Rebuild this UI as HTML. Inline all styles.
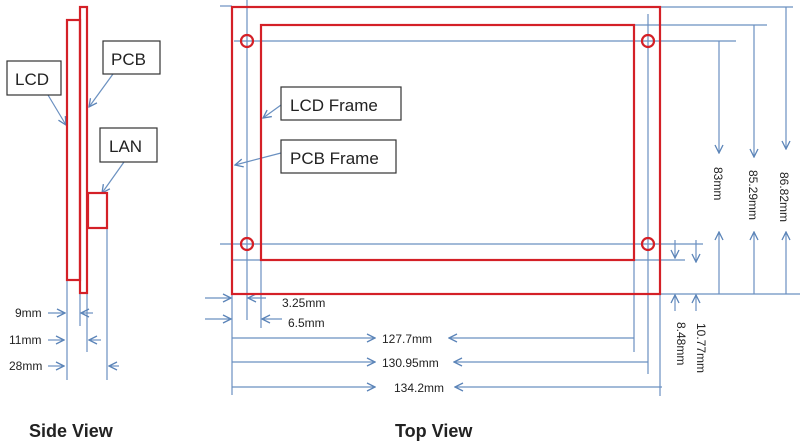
<!DOCTYPE html>
<html><head><meta charset="utf-8"><style>
html,body{margin:0;padding:0;background:#fff;width:800px;height:447px;overflow:hidden}
text{font-family:"Liberation Sans",sans-serif;fill:#222}
</style></head><body>
<svg width="800" height="447" viewBox="0 0 800 447" xmlns="http://www.w3.org/2000/svg">
<defs>
<marker id="a" markerWidth="10" markerHeight="10" refX="9" refY="5" orient="auto" markerUnits="userSpaceOnUse">
<path d="M1,1 L9,5 L1,9" fill="none" stroke="#5b84b8" stroke-width="1.3"/>
</marker>
</defs>
<g stroke="#6a90c0" stroke-width="1.2" fill="none">
<!-- side view lines -->
<line x1="67" y1="255" x2="67" y2="380"/>
<line x1="80" y1="290" x2="80" y2="326"/>
<line x1="87" y1="290" x2="87" y2="352"/>
<line x1="107" y1="228" x2="107" y2="380"/>
<line x1="48" y1="95" x2="66" y2="125" marker-end="url(#a)"/>
<line x1="113" y1="74" x2="89" y2="107" marker-end="url(#a)"/>
<line x1="124" y1="162" x2="102" y2="193" marker-end="url(#a)"/>
<line x1="48" y1="313" x2="65" y2="313" marker-end="url(#a)"/>
<line x1="93" y1="313" x2="81" y2="313" marker-end="url(#a)"/>
<line x1="48" y1="340" x2="64" y2="340" marker-end="url(#a)"/>
<line x1="101" y1="340" x2="89" y2="340" marker-end="url(#a)"/>
<line x1="48" y1="366" x2="64" y2="366" marker-end="url(#a)"/>
<line x1="119" y1="366" x2="109" y2="366" marker-end="url(#a)"/>
<!-- top view construction lines -->
<line x1="247" y1="0" x2="247" y2="320"/>
<line x1="261" y1="255" x2="261" y2="328"/>
<line x1="232" y1="290" x2="232" y2="395"/>
<line x1="634" y1="255" x2="634" y2="352"/>
<line x1="648" y1="14" x2="648" y2="374"/>
<line x1="660" y1="290" x2="660" y2="396"/>
<line x1="220" y1="6" x2="232" y2="6"/>
<line x1="660" y1="7" x2="793" y2="7"/>
<line x1="634" y1="25" x2="767" y2="25"/>
<line x1="234" y1="41" x2="736" y2="41"/>
<line x1="220" y1="244" x2="703" y2="244"/>
<line x1="232" y1="260" x2="685" y2="260"/>
<line x1="660" y1="294" x2="800" y2="294"/>
<!-- labels leaders -->
<line x1="281" y1="105" x2="263" y2="118" marker-end="url(#a)"/>
<line x1="281" y1="153" x2="235" y2="165" marker-end="url(#a)"/>
<!-- vertical dims -->
<line x1="719" y1="41" x2="719" y2="153" marker-end="url(#a)"/>
<line x1="719" y1="294" x2="719" y2="232" marker-end="url(#a)"/>
<line x1="754" y1="25" x2="754" y2="157" marker-end="url(#a)"/>
<line x1="754" y1="294" x2="754" y2="232" marker-end="url(#a)"/>
<line x1="786" y1="7" x2="786" y2="149" marker-end="url(#a)"/>
<line x1="786" y1="294" x2="786" y2="232" marker-end="url(#a)"/>
<line x1="675" y1="240" x2="675" y2="258" marker-end="url(#a)"/>
<line x1="696" y1="240" x2="696" y2="262" marker-end="url(#a)"/>
<line x1="675" y1="311" x2="675" y2="295" marker-end="url(#a)"/>
<line x1="696" y1="311" x2="696" y2="295" marker-end="url(#a)"/>
<!-- horizontal dims -->
<line x1="205" y1="298" x2="231" y2="298" marker-end="url(#a)"/>
<line x1="266" y1="298" x2="248" y2="298" marker-end="url(#a)"/>
<line x1="205" y1="319" x2="231" y2="319" marker-end="url(#a)"/>
<line x1="282" y1="319" x2="262" y2="319" marker-end="url(#a)"/>
<line x1="232" y1="338" x2="375" y2="338" marker-end="url(#a)"/>
<line x1="634" y1="338" x2="449" y2="338" marker-end="url(#a)"/>
<line x1="232" y1="362" x2="375" y2="362" marker-end="url(#a)"/>
<line x1="648" y1="362" x2="454" y2="362" marker-end="url(#a)"/>
<line x1="232" y1="387" x2="375" y2="387" marker-end="url(#a)"/>
<line x1="662" y1="387" x2="455" y2="387" marker-end="url(#a)"/>
</g>
<g stroke="#d42027" stroke-width="2.2" fill="none">
<rect x="67" y="20" width="13" height="260"/>
<rect x="80" y="7" width="7" height="286"/>
<rect x="88" y="193" width="19" height="35"/>
<rect x="232" y="7" width="428" height="287"/>
<rect x="261" y="25" width="373" height="235"/>
<circle cx="247" cy="41" r="6"/>
<circle cx="648" cy="41" r="6"/>
<circle cx="247" cy="244" r="6"/>
<circle cx="648" cy="244" r="6"/>
</g>
<g stroke="#333" stroke-width="1.2" fill="#fff">
<rect x="7" y="61" width="54" height="34"/>
<rect x="103" y="41" width="57" height="33"/>
<rect x="100" y="128" width="57" height="34"/>
<rect x="281" y="87" width="120" height="33"/>
<rect x="281" y="140" width="115" height="33"/>
</g>
<text x="15" y="85" font-size="17">LCD</text>
<text x="111" y="65" font-size="17">PCB</text>
<text x="109" y="152" font-size="17">LAN</text>
<text x="290" y="111" font-size="17">LCD Frame</text>
<text x="290" y="164" font-size="17">PCB Frame</text>
<g font-size="12">
<text x="15" y="317">9mm</text>
<text x="9" y="344">11mm</text>
<text x="9" y="370">28mm</text>
<text x="282" y="307">3.25mm</text>
<text x="288" y="327">6.5mm</text>
<text x="382" y="343">127.7mm</text>
<text x="382" y="367">130.95mm</text>
<text x="394" y="392">134.2mm</text>
<text transform="translate(714,167) rotate(90)">83mm</text>
<text transform="translate(749,170) rotate(90)">85.29mm</text>
<text transform="translate(780,172) rotate(90)">86.82mm</text>
<text transform="translate(677,322) rotate(90)">8.48mm</text>
<text transform="translate(697,323) rotate(90)">10.77mm</text>
</g>
<text x="29" y="437" font-size="18" font-weight="bold" fill="#111">Side View</text>
<text x="395" y="437" font-size="18" font-weight="bold" fill="#111">Top View</text>
</svg>
</body></html>
